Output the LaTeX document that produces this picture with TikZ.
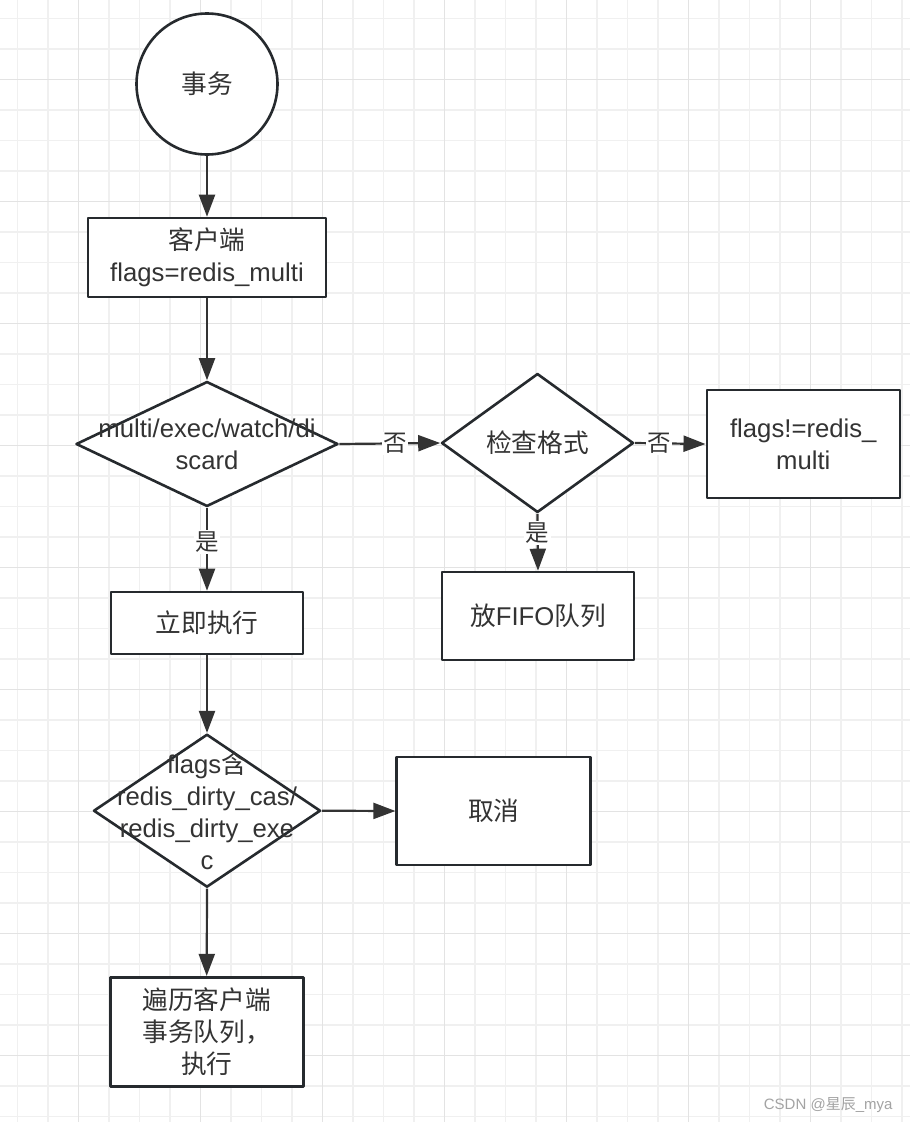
\documentclass[tikz,border=0pt]{standalone}
\usepackage{fontspec}
\setmainfont{Liberation Sans}
\newfontfamily\cjk{Noto Sans CJK SC}
\usetikzlibrary{shapes.geometric,arrows.meta}
\definecolor{inkline}{HTML}{262A2E}
\definecolor{arrline}{HTML}{333333}
\definecolor{txtgray}{HTML}{333333}
\definecolor{gridminor}{HTML}{F0F0F0}
\definecolor{gridmajor}{HTML}{E3E3E3}
\definecolor{markgray}{HTML}{A3A3A3}
\tikzset{
  flowtext/.style={font=\fontsize{25.7}{32}\selectfont,text=txtgray,align=center},
  procbox/.style={rectangle,draw=inkline,line width=2.6pt,fill=white,inner sep=0pt,flowtext},
  decide/.style={diamond,draw=inkline,line width=2.6pt,fill=white,inner sep=0pt},
  startcirc/.style={circle,draw=inkline,line width=2.6pt,fill=white,inner sep=0pt,flowtext},
  flowarrow/.style={draw=arrline,line width=2.2pt,-{Triangle[length=22pt,width=16pt]}},
  yesno/.style={font=\fontsize{23.5}{26}\cjk,text=txtgray,fill=white,inner sep=1.5pt},
}
\begin{document}
\begin{tikzpicture}[x=1pt,y=-1pt,line join=round]
                \def\midx{207}\def\gridx{78.5}\def\gridy{79.5}\def\gridstep{30.5}
                \useasboundingbox[fill=white] (0,0) rectangle (910,1122);
                \foreach \k in {-2,...,27} \draw[gridminor,line width=1.3pt] ({\gridx+\gridstep*\k},0)--++(0,1122);
                \foreach \k in {-2,...,34} \draw[gridminor,line width=1.3pt] (0,{\gridy+\gridstep*\k})--++(910,0);
                \foreach \k in {0,...,6} \draw[gridmajor,line width=1.8pt] ({\gridx+4*\gridstep*\k},0)--++(0,1122);
                \foreach \k in {0,...,8} \draw[gridmajor,line width=1.8pt] (0,{\gridy+4*\gridstep*\k})--++(910,0);
                \node[startcirc,minimum size=141pt] (txn) at (\midx,84) {{\cjk 事务}};
                \node[procbox,minimum width=238pt,minimum height=79pt] (client) at (\midx,257.5) {{\cjk 客户端}\\flags=redis\_multi};
                \node[decide,minimum width=262pt,minimum height=125pt] (cmdchk) at (\midx,444) {};
                \node[flowtext] (cmdtxt) at (cmdchk.center) {multi/exec/watch/di\\scard};
                \node[decide,minimum width=192pt,minimum height=139pt] (fmtchk) at (537.5,443) {};
                \node[flowtext] (fmttxt) at (fmtchk.center) {{\cjk 检查格式}};
                \node[procbox,minimum width=193pt,minimum height=108pt] (notmulti) at (803.3,444) {flags!=redis\_\\multi};
                \node[procbox,minimum width=192pt,minimum height=88pt] (fifo) at (538,616) {{\cjk 放}FIFO{\cjk 队列}};
                \node[procbox,minimum width=192pt,minimum height=62pt] (runnow) at (\midx,623) {{\cjk 立即执行}};
                \node[decide,minimum width=227pt,minimum height=153pt] (dirtychk) at (\midx,810.7) {};
                \node[flowtext] (dirtytxt) at (dirtychk.center) {flags{\cjk 含}\\redis\_dirty\_cas/\\redis\_dirty\_exe\\c};
                \node[procbox,minimum width=194pt,minimum height=108pt] (cancel) at (493.7,811) {{\cjk 取消}};
                \node[procbox,minimum width=193pt,minimum height=109pt] (runall) at (206.7,1031.7) {{\cjk 遍历客户端}\\{\cjk 事务队列，}\\{\cjk 执行}};
                \node[anchor=east,font=\fontsize{15}{18}\selectfont,text=markgray] (mark) at (896,1105) {CSDN @{\cjk 星辰}\_mya};
                \draw[flowarrow] (txn)--(client);
                \draw[flowarrow] (client)--(cmdchk);
                \draw[flowarrow] (cmdchk.east)--node[yesno,pos=0.55] {否} (fmtchk.west);
                \draw[flowarrow] (fmtchk.east)--node[yesno,pos=0.34] {否} (notmulti.west);
                \draw[flowarrow] (fmtchk.south)--node[yesno,pos=0.34] {是} (fifo.north);
                \draw[flowarrow] (cmdchk.south)--node[yesno,pos=0.41] {是} (runnow.north);
                \draw[flowarrow] (runnow)--(dirtychk);
                \draw[flowarrow] (dirtychk.east)--(cancel.west);
                \draw[flowarrow] (dirtychk.south)--(runall.north);
            \end{tikzpicture}
\end{document}
